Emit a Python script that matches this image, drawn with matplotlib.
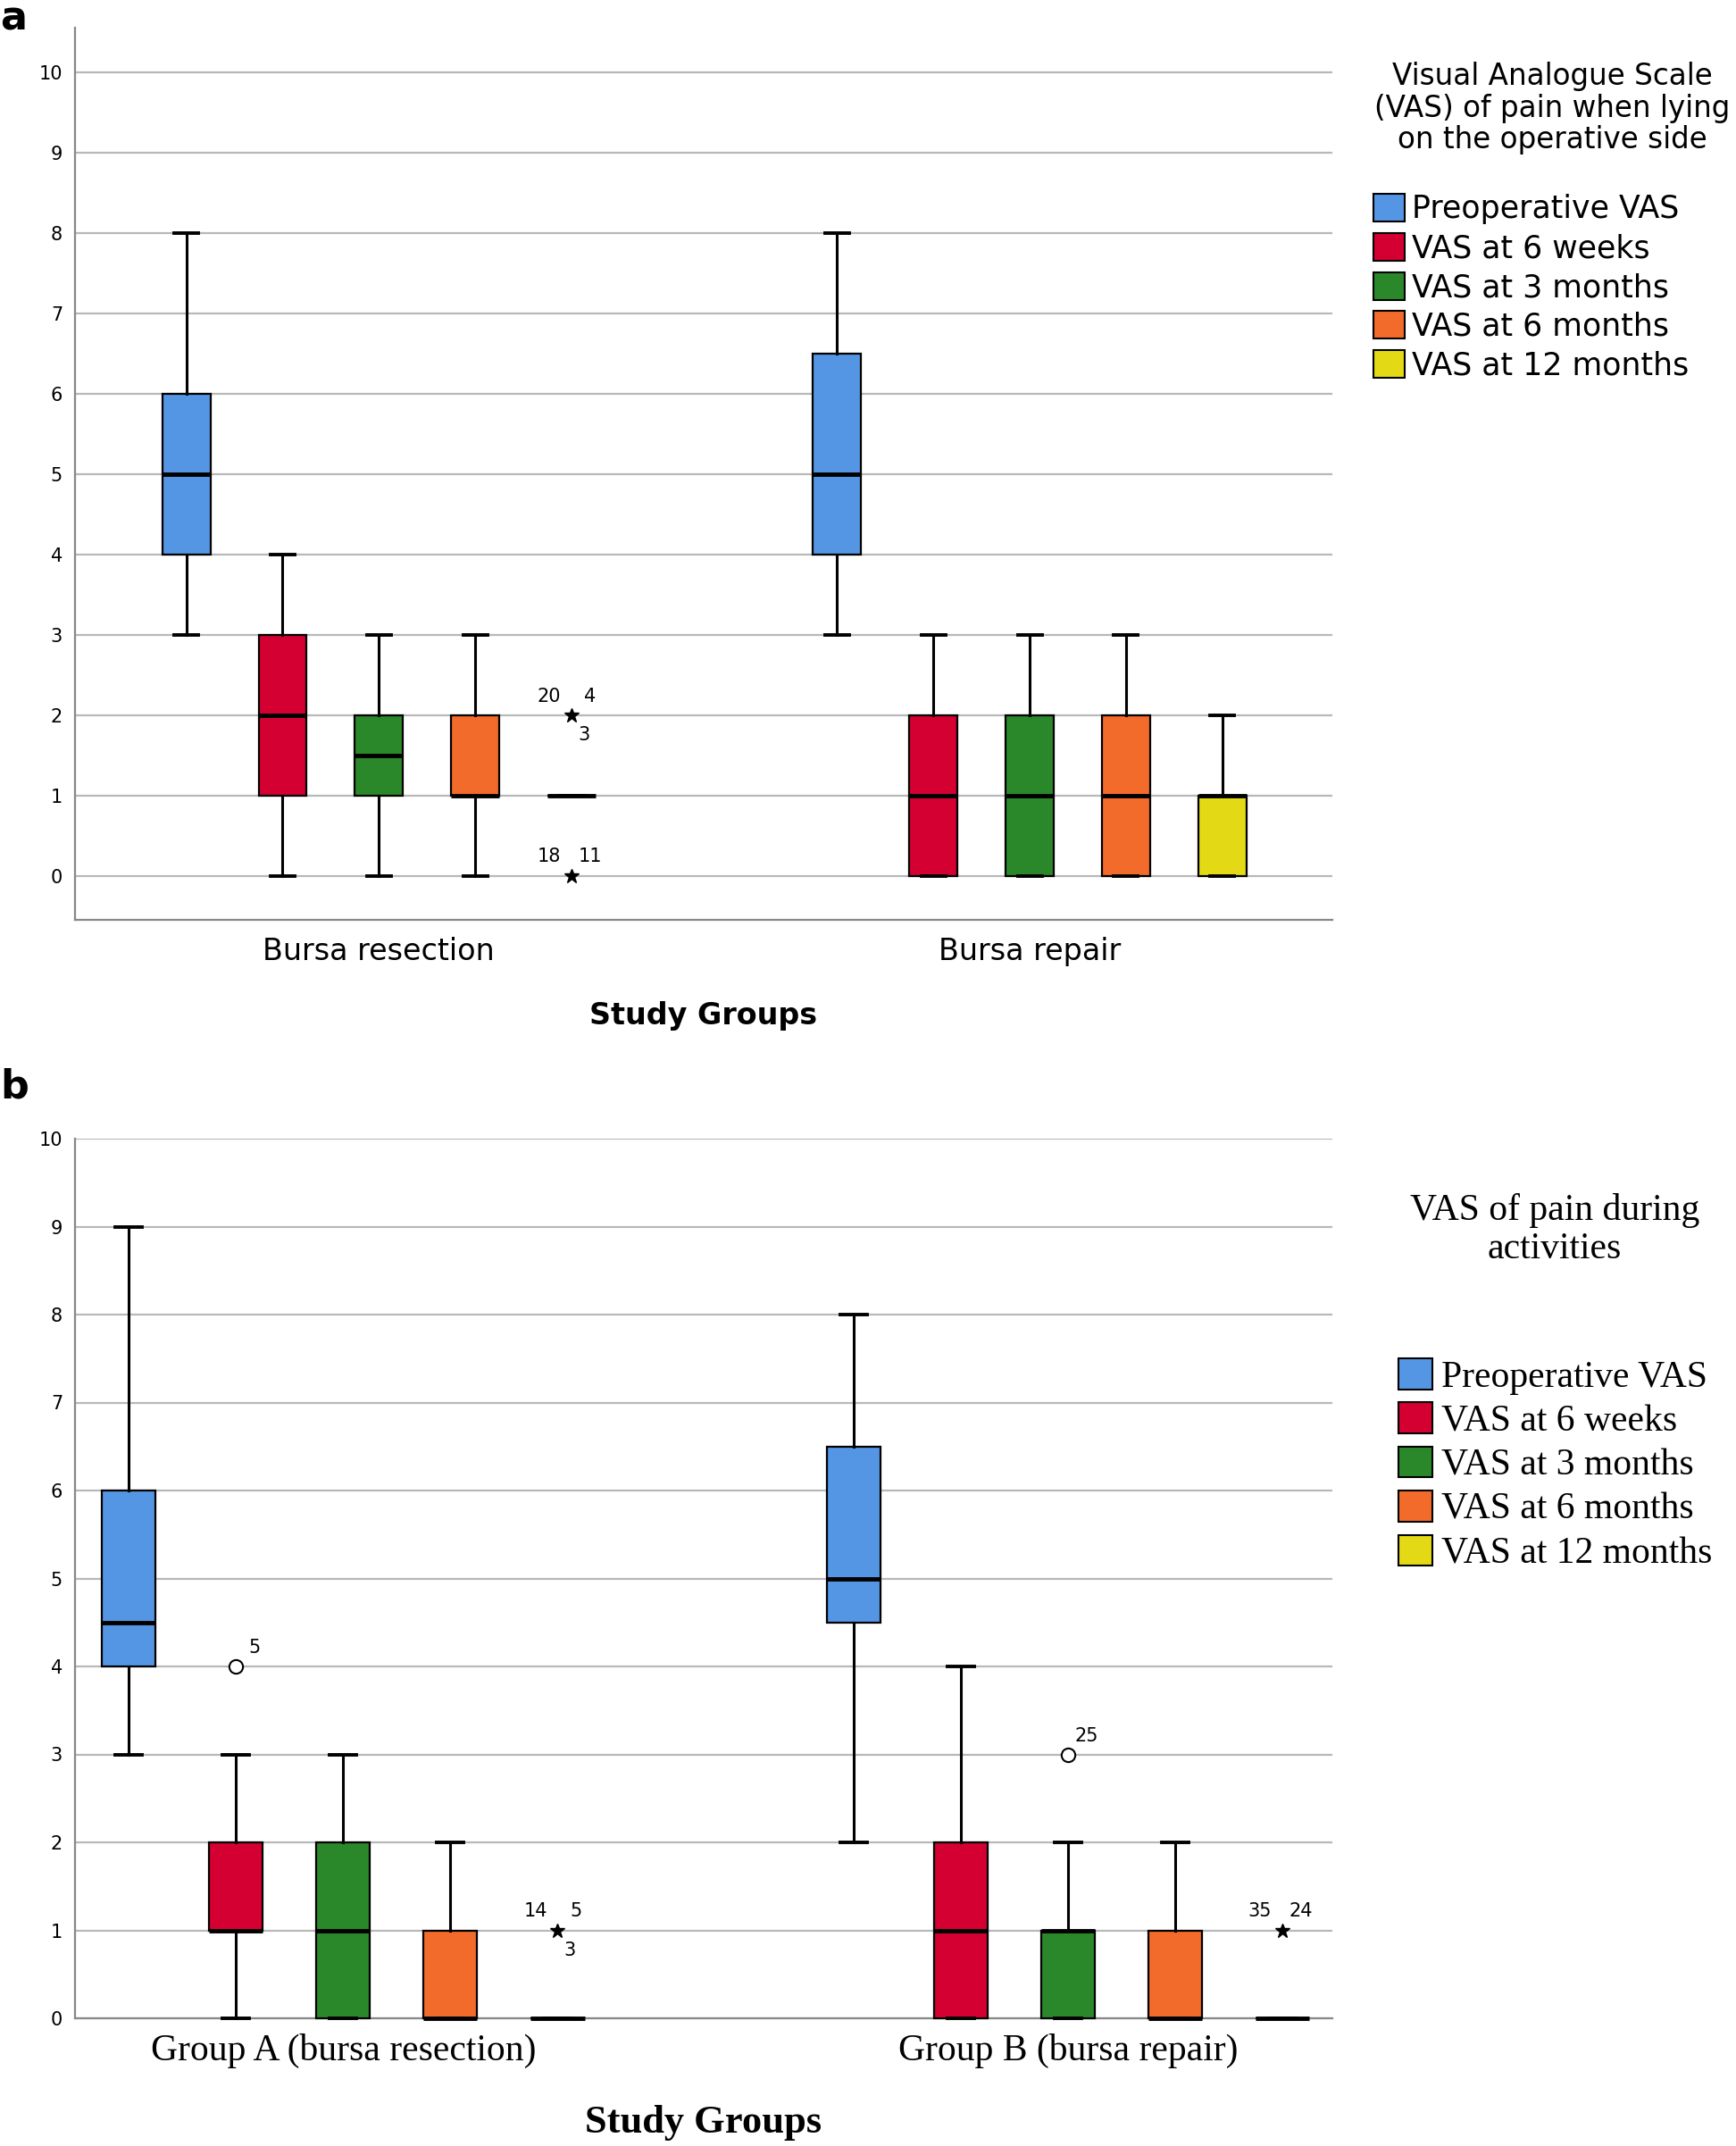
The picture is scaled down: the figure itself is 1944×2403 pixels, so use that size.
import matplotlib
matplotlib.use("Agg")
import matplotlib.pyplot as plt
from matplotlib.patches import Patch

# ---------------- data ----------------
series = ["Preoperative VAS", "VAS at 6 weeks", "VAS at 3 months",
          "VAS at 6 months", "VAS at 12 months"]
colors = ["#5596E4", "#D50032", "#2A882A", "#F36B2B", "#E3D915"]

a_groups = ["Bursa resection", "Bursa repair"]
a_whislo = [[3, 0, 0, 0, 1], [3, 0, 0, 0, 0]]
a_q1     = [[4, 1, 1, 1, 1], [4, 0, 0, 0, 0]]
a_med    = [[5, 2, 1.5, 1, 1], [5, 1, 1, 1, 1]]
a_q3     = [[6, 3, 2, 2, 1], [6.5, 2, 2, 2, 1]]
a_whishi = [[8, 4, 3, 3, 1], [8, 3, 3, 3, 2]]
# outliers: (group, series, value, marker, labels)
a_out_group  = [0, 0]
a_out_series = [4, 4]
a_out_value  = [2, 0]
a_out_marker = ["*", "*"]
a_out_labels = [["20", "4", "3"], ["18", "11"]]

b_groups = ["Group A (bursa resection)", "Group B (bursa repair)"]
b_whislo = [[3, 0, 0, 0, 0], [2, 0, 0, 0, 0]]
b_q1     = [[4, 1, 0, 0, 0], [4.5, 0, 0, 0, 0]]
b_med    = [[4.5, 1, 1, 0, 0], [5, 1, 1, 0, 0]]
b_q3     = [[6, 2, 2, 1, 0], [6.5, 2, 1, 1, 0]]
b_whishi = [[9, 3, 3, 2, 0], [8, 4, 2, 2, 0]]
b_out_group  = [0, 0, 1, 1]
b_out_series = [1, 4, 2, 4]
b_out_value  = [4, 1, 3, 1]
b_out_marker = ["o", "*", "o", "*"]
b_out_labels = [["5"], ["14", "5", "3"], ["25"], ["35", "24"]]

# label offsets (pixels) for multi-label outliers
star_offsets3 = [(-25, 21), (21, 21), (14, -22)]
star_offsets2 = [(-25, 22), (21, 22)]
circle_offset = [(21, 21)]

W, H = 1944, 2403
fig = plt.figure(figsize=(W / 100, H / 100), dpi=100)

spacing = 0.148
bw = 0.074
grid_c = "#b8b8b8"


def draw_panel(ax, groups, wlo, q1, med, q3, whi, og, os_, ov, om, ol,
               tickfont, outfont):
    stats, pos, cols = [], [], []
    for g in range(len(groups)):
        for s in range(len(series)):
            stats.append(dict(whislo=wlo[g][s], q1=q1[g][s], med=med[g][s],
                              q3=q3[g][s], whishi=whi[g][s], fliers=[]))
            pos.append(g + (s - 2) * spacing)
            cols.append(colors[s])
    for y in range(0, 11):
        ax.axhline(y, color=grid_c, lw=1.6, zorder=0)
    bp = ax.bxp(stats, positions=pos, widths=bw, patch_artist=True,
                showfliers=False, manage_ticks=False,
                boxprops=dict(edgecolor="black", linewidth=1.6),
                medianprops=dict(color="black", linewidth=3.5,
                                 solid_capstyle="butt"),
                whiskerprops=dict(color="black", linewidth=2.2),
                capprops=dict(color="black", linewidth=2.8),
                capwidths=bw * 0.5)
    for patch, c in zip(bp["boxes"], cols):
        patch.set_facecolor(c)
        patch.set_zorder(2)
    for key in ["boxes", "medians", "whiskers", "caps"]:
        for art in bp[key]:
            art.set_clip_on(False)
    for m in bp["medians"]:
        m.set_zorder(3)
    for g, s, v, m, labs in zip(og, os_, ov, om, ol):
        x = g + (s - 2) * spacing
        if m == "o":
            ax.plot([x], [v], marker="o", ms=11, mfc="white", mec="black",
                    mew=1.5, ls="none", zorder=4)
            offs = circle_offset
        else:
            ax.plot([x], [v], marker="*", ms=12, color="black", ls="none",
                    zorder=4)
            offs = star_offsets3 if len(labs) == 3 else star_offsets2
        for lab, off in zip(labs, offs):
            ax.annotate(lab, (x, v), xytext=off, textcoords="offset pixels",
                        ha="center", va="center", fontsize=15,
                        family=outfont)
    ax.set_yticks(range(0, 11))
    ax.set_yticklabels([str(i) for i in range(0, 11)], fontsize=15,
                       family=tickfont)
    ax.tick_params(axis="y", length=0, pad=10)
    ax.tick_params(axis="x", length=0)
    ax.set_xticks(range(len(groups)))
    for sp in ["top", "right"]:
        ax.spines[sp].set_visible(False)
    for sp in ["left", "bottom"]:
        ax.spines[sp].set_color("#888888")
        ax.spines[sp].set_linewidth(1.6)
        ax.spines[sp].set_zorder(1)


# ---------------- panel a ----------------
axa = fig.add_axes([84 / W, 1 - 1030 / H, (1492 - 84) / W, (1030 - 31) / H])
draw_panel(axa, a_groups, a_whislo, a_q1, a_med, a_q3, a_whishi,
           a_out_group, a_out_series, a_out_value, a_out_marker, a_out_labels,
           "DejaVu Sans", "DejaVu Sans")
axa.set_ylim(-0.545, 10.56)
axa.set_xlim(-0.467, 1.465)
axa.set_xticklabels(a_groups, fontsize=24, family="DejaVu Sans")
axa.tick_params(axis="x", pad=14)
axa.set_xlabel("Study Groups", fontsize=24, fontweight="bold",
               family="DejaVu Sans", labelpad=28)

fig.text(1738 / W, 1 - 121 / H,
         "Visual Analogue Scale\n(VAS) of pain when lying\non the operative side",
         ha="center", va="center", fontsize=23.5, family="DejaVu Sans",
         linespacing=1.08)
hand_a = [Patch(facecolor=c, edgecolor="black", linewidth=1.5) for c in colors]
fig.legend(hand_a, series, loc="upper left",
           bbox_to_anchor=(1538 / W, 1 - 217 / H), frameon=False,
           handlelength=1.0, handleheight=1.0,
           handletextpad=0.25, labelspacing=0.27, borderpad=0,
           borderaxespad=0, prop=dict(family="DejaVu Sans", size=25))
fig.text(0.0, 1.0, "a", ha="left", va="top", fontsize=32, fontweight="bold",
         family="DejaVu Sans")

# ---------------- panel b ----------------
axb = fig.add_axes([84 / W, 1 - 2260 / H, (1492 - 84) / W, (2260 - 1275) / H])
draw_panel(axb, b_groups, b_whislo, b_q1, b_med, b_q3, b_whishi,
           b_out_group, b_out_series, b_out_value, b_out_marker, b_out_labels,
           "DejaVu Sans", "DejaVu Sans")
axb.set_ylim(0, 10)
axb.set_xlim(-0.37, 1.365)
axb.set_xticklabels(b_groups, fontsize=30, family="Liberation Serif")
axb.tick_params(axis="x", pad=12)
axb.set_xlabel("Study Groups", fontsize=32, fontweight="bold",
               family="Liberation Serif", labelpad=30)

fig.text(1741 / W, 1 - 1377 / H, "VAS of pain during\nactivities",
         ha="center", va="center", fontsize=30, family="Liberation Serif",
         linespacing=1.15)
hand_b = [Patch(facecolor=c, edgecolor="black", linewidth=1.5) for c in colors]
fig.legend(hand_b, series, loc="upper left",
           bbox_to_anchor=(1566 / W, 1 - 1521 / H), frameon=False,
           handlelength=0.9, handleheight=0.9,
           handletextpad=0.25, labelspacing=0.21, borderpad=0,
           borderaxespad=0, prop=dict(family="Liberation Serif", size=30))
fig.text(0.0, 1 - 1196 / H, "b", ha="left", va="top", fontsize=32,
         fontweight="bold", family="DejaVu Sans")

fig.savefig("out.png", dpi=100, facecolor="white")
